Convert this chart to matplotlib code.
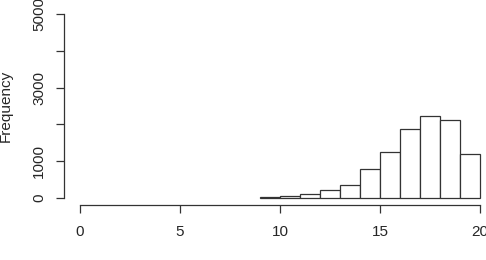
import matplotlib
matplotlib.use("Agg")
import matplotlib.pyplot as plt

# Histogram data (bin edges of width 1, counts)
bin_left = [9, 10, 11, 12, 13, 14, 15, 16, 17, 18, 19]
counts = [25, 55, 100, 200, 345, 770, 1245, 1860, 2235, 2105, 1190]
x_ticks = [0, 5, 10, 15, 20]
y_ticks = [0, 1000, 2000, 3000, 4000, 5000]
y_labels = ["0", "1000", "", "3000", "", "5000"]
ylabel = "Frequency"

plt.rcParams['font.family'] = ['Liberation Sans', 'DejaVu Sans']
txt = '#262626'
W, H = 486, 260
fig = plt.figure(figsize=(W / 100, H / 100), dpi=100)
ax = fig.add_axes([64 / W, (H - 205) / H, 432 / W, 198 / H])

ax.bar(bin_left, counts, width=1, align='edge', color='white',
       edgecolor='#333333', linewidth=0.9)

ax.set_xlim(-0.8, 20.8)
ax.set_ylim(-200, 5200)
for s in ['top', 'right']:
    ax.spines[s].set_visible(False)
ax.spines['left'].set_bounds(0, 5000)
ax.spines['bottom'].set_bounds(0, 20)
for s in ['left', 'bottom']:
    ax.spines[s].set_color('#333333')
    ax.spines[s].set_linewidth(0.9)

ax.set_xticks(x_ticks)
ax.set_xticklabels([str(v) for v in x_ticks])
ax.set_yticks(y_ticks)
ax.set_yticklabels(y_labels, rotation=90, va='center')
ax.tick_params(axis='both', direction='out', length=5.8, width=0.9,
               colors='#333333', labelcolor=txt, labelsize=11)
ax.tick_params(axis='x', pad=8.5)
ax.tick_params(axis='y', pad=7)

fig.text(6 / W, 1 - 106 / H, ylabel, rotation=90, ha='center', va='center',
         fontsize=11, color=txt)

fig.savefig('out.png', dpi=100)
